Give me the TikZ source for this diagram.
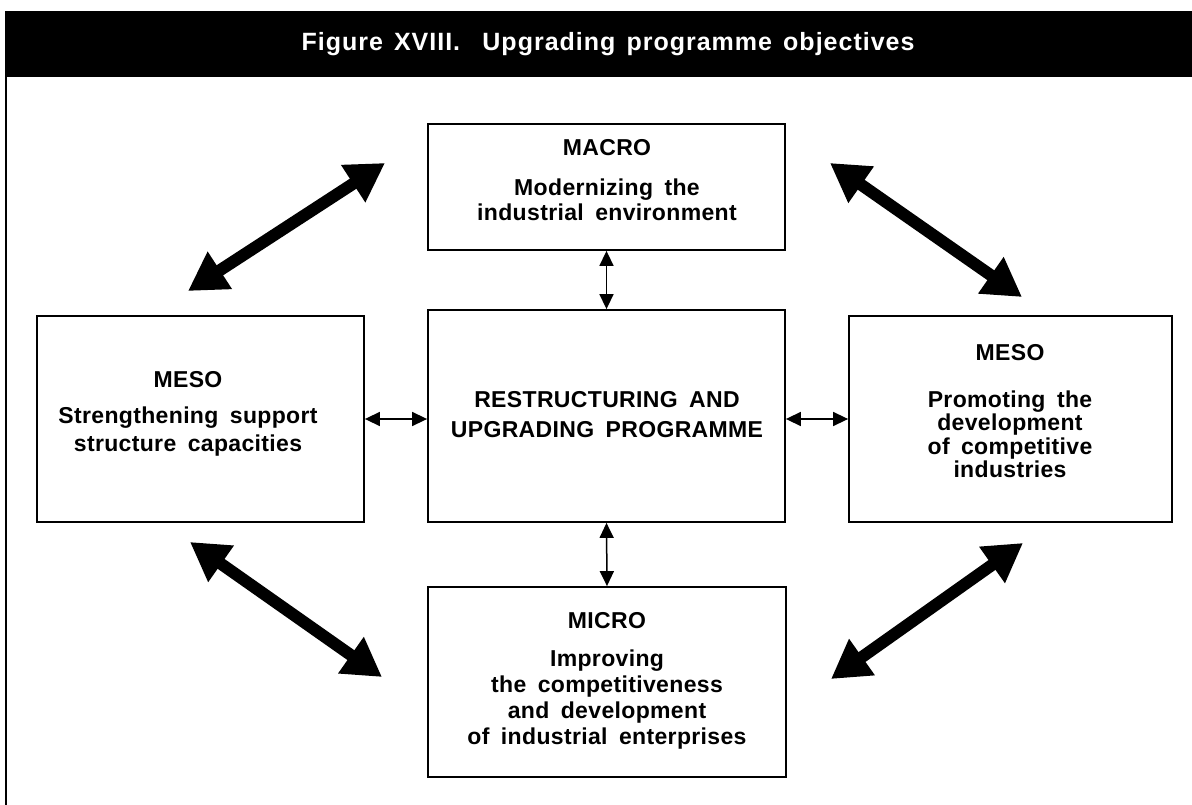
\documentclass[tikz,border=0pt]{standalone}
\usepackage{fontspec}
\setmainfont{Liberation Sans}
\newfontfamily\labelfont[LetterSpace=1.5,WordSpace=1.7]{Liberation Sans}
\newfontfamily\titlefont[LetterSpace=4,WordSpace=1.4]{Liberation Sans}
\usetikzlibrary{arrows.meta}

\begin{document}
\begin{tikzpicture}[x=1pt,y=-1pt,
  box/.style={draw,line width=1.8pt,inner sep=0pt},
  txt/.style={align=center,inner sep=0pt,
    font=\labelfont\bfseries\fontsize{23}{#1}\selectfont},
  txt/.default=25,
  bigarrow/.style={line width=12pt,
    {Triangle[length=38pt,width=42pt]}-{Triangle[length=38pt,width=42pt]}},
  smallarrow/.style={line width=1.5pt,
    {Triangle[length=15pt,width=14pt]}-{Triangle[length=15pt,width=14pt]}}]

\useasboundingbox (0,0) rectangle (1192,805);

% heading band and left frame rule
\fill[black] (5,11) rectangle (1192,77);
\draw[line width=2.5pt] (6,77) -- (6,805);
\node[text=white,inner sep=0pt,font=\titlefont\bfseries\fontsize{25}{28}\selectfont]
  (title) at (608,44) {Figure XVIII.\ \ Upgrading programme objectives};

% the five boxes
\node[box,minimum width=357pt,minimum height=126pt] (macro)  at (606.5,187) {};
\node[box,minimum width=357pt,minimum height=212pt] (centre) at (606.5,416) {};
\node[box,minimum width=327pt,minimum height=206pt] (left)   at (200.5,419) {};
\node[box,minimum width=323pt,minimum height=206pt] (right)  at (1010.5,419) {};
\node[box,minimum width=358pt,minimum height=190pt] (micro)  at (607,682) {};

% box texts
\node[txt=25] (macrotext) at (607,180.5)
  {MACRO\\[15pt]Modernizing the\\industrial environment};
\node[txt=30] (centretext) at (607,415)
  {RESTRUCTURING AND\\UPGRADING PROGRAMME};
\node[txt=28] (lefttext) at (188,414)
  {MESO\\[8pt]Strengthening support\\structure capacities};
\node[txt=23.5] (righttext) at (1010,411.5)
  {MESO\\[23pt]Promoting the\\development\\of competitive\\industries};
\node[txt=26] (microtext) at (607,680.5)
  {MICRO\\[12pt]Improving\\the competitiveness\\and development\\of industrial enterprises};

% small two-way links to the central box
\draw[smallarrow] (macro.south) -- (centre.north);
\draw[smallarrow] (centre.south) -- (micro.north);
\draw[smallarrow] (left.east) -- (left.east -| centre.west);
\draw[smallarrow] (centre.east |- right.west) -- (right.west);

% heavy two-way links around the ring
\coordinate (tlA) at (188,291);  \coordinate (tlB) at (385,163);
\coordinate (trA) at (830,163);  \coordinate (trB) at (1022,297);
\coordinate (blA) at (190,542);  \coordinate (blB) at (382,677);
\coordinate (brA) at (1023,543); \coordinate (brB) at (831,679);
\draw[bigarrow] (tlA) -- (tlB);
\draw[bigarrow] (trA) -- (trB);
\draw[bigarrow] (blA) -- (blB);
\draw[bigarrow] (brA) -- (brB);
\end{tikzpicture}
\end{document}
